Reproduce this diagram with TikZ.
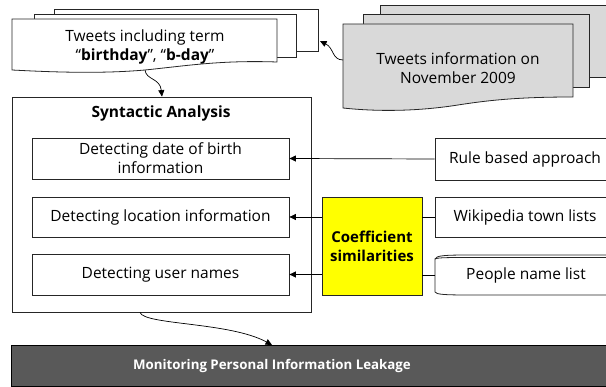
\documentclass[tikz,border=0pt]{standalone}
\usepackage{fontspec}
\setmainfont{Open Sans}
\usetikzlibrary{arrows.meta}
\definecolor{docgray}{HTML}{D9D9D9}
\definecolor{darkbar}{HTML}{595959}
\definecolor{coefyellow}{HTML}{FFFF00}
\begin{document}
\begin{tikzpicture}[x=1pt,y=-1pt,
  ln/.style={line width=0.8pt, draw=black!85},
  box/.style={ln, fill=white, inner sep=0pt, align=center, font=\fontsize{15.5}{19}\selectfont},
  txt/.style={align=center, inner sep=0pt, font=\fontsize{15.5}{19}\selectfont},
  arr/.style={line width=0.7pt, -{Triangle[length=6.5pt,width=6pt]}},
  conn/.style={line width=0.7pt}]
\useasboundingbox (0,0) rectangle (606,387);
\clip (0,0) rectangle (606,387);
% ---- left document stack
\draw[ln, fill=white] (54,9) rectangle (318,51);
\draw[ln, fill=white] (34,14) rectangle (296,57);
\draw[ln, fill=white] (12,19) -- (277,19) -- (277,62)
  .. controls (220,60) and (185,66) .. (145,70)
  .. controls (100,74) and (50,72) .. (12,70) -- cycle;
\node[txt] (tweetsterm) at (145,47) {Tweets including term\\``\textbf{birthday}'', ``\textbf{b-day}''};
\coordinate (ldocbot) at (145,70);
\coordinate (ldocright) at (320,41);
% ---- right document stack
\draw[ln, fill=docgray] (380,5) rectangle (620,77);
\draw[ln, fill=docgray] (363,14) rectangle (589,87);
\draw[ln, fill=docgray] (343,24) -- (573,24) -- (573,97)
  .. controls (520,97) and (490,100) .. (458,105)
  .. controls (420,111) and (380,112) .. (343,108) -- cycle;
\node[txt] (tweetsnov) at (458,68) {Tweets information on\\November 2009};
\coordinate (rdocleft) at (343,60);
% ---- syntactic analysis
\node[box, minimum width=299pt, minimum height=215pt] (syn) at (161.5,204.5) {};
\node[txt, font=\fontsize{15.5}{19}\selectfont\bfseries] (syntitle) at (161,113) {Syntactic Analysis};
\node[box, minimum width=257pt, minimum height=41pt] (dob) at (160.5,158.5) {Detecting date of birth\\information};
\node[box, minimum width=257pt, minimum height=40pt] (loc) at (160.5,217) {Detecting location information};
\node[box, minimum width=257pt, minimum height=41pt] (usr) at (160.5,274.5) {Detecting user names};
% ---- coefficient
\node[box, fill=coefyellow, minimum width=100pt, minimum height=98pt, font=\fontsize{15}{19}\selectfont\bfseries] (coef) at (372,246) {Coefficient\\similarities};
% ---- right sources
\node[box, minimum width=180pt, minimum height=42pt] (rule) at (525,159) {Rule based approach};
\node[box, minimum width=180pt, minimum height=40pt] (wiki) at (525,217) {Wikipedia town lists};
\draw[ln, fill=white] (435,259) .. controls (436,255.5) and (445,255) .. (470,255) -- (620,255)
  -- (620,295) -- (470,295) .. controls (445,295) and (436,294.5) .. (435,292) -- cycle;
\draw[ln] (435,259) .. controls (438,257.5) and (448,257.5) .. (470,257.5) -- (620,257.5);
\node[txt] (people) at (526,275) {People name list};
\coordinate (peopleleft) at (435,275);
% ---- monitoring
\node[draw=black, line width=0.8pt, fill=darkbar, minimum width=606pt, minimum height=41pt, inner sep=0pt, anchor=north west] (mon) at (11,345) {};
\node[txt, text=white, font=\fontsize{13.3}{16}\selectfont\bfseries] (montext) at (272,366) {Monitoring Personal Information Leakage};
% ---- connectors
\draw[arr] (rule.west) -- (dob.east);
\draw[conn] (wiki.west) -- (coef.east |- wiki.west);
\draw[arr] (coef.west |- loc.east) -- (loc.east);
\draw[conn] (peopleleft) -- (coef.east |- peopleleft);
\draw[arr] (coef.west |- usr.east) -- (usr.east);
\draw[arr] (ldocbot) .. controls (146,80) and (160,78) .. (syn.north -| 162,0);
\draw[arr] (rdocleft) .. controls (332,60) and (334,48) .. (ldocright);
\draw[arr] (syn.south -| 140,0) .. controls (144,325) and (230,322) .. (mon.north -| 272,0);
\end{tikzpicture}
\end{document}
